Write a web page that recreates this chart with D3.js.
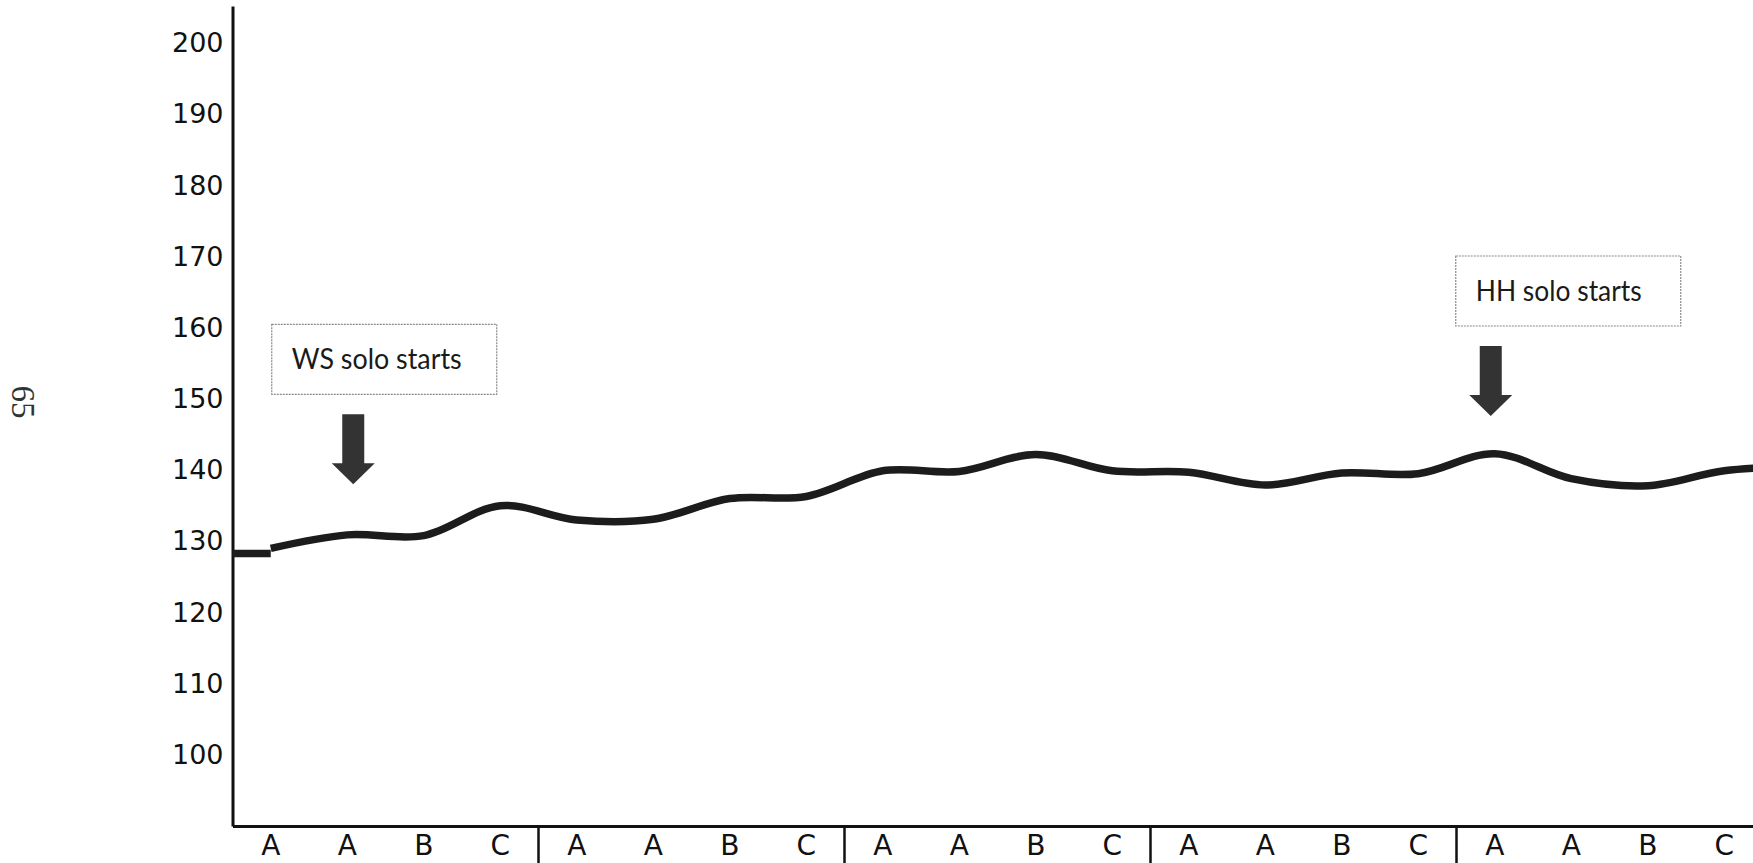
<!DOCTYPE html>
<html>
<head>
<meta charset="utf-8">
<script src="https://cdn.jsdelivr.net/npm/d3@7"></script>
<style>
  html, body { margin: 0; padding: 0; background: #fff; overflow: hidden; }
</style>
</head>
<body>
<div id="chart"></div>
<script>
// sections of A A B C, the fifth one runs off the right edge
const categories = [
  'A', 'A', 'B', 'C',
  'A', 'A', 'B', 'C',
  'A', 'A', 'B', 'C',
  'A', 'A', 'B', 'C',
  'A', 'A', 'B', 'C',
  'A'
]
const values = [
  129.0, 130.9, 130.8, 135.0,
  133.0, 133.1, 136.0, 136.3,
  139.9, 139.8, 142.2, 139.9,
  139.7, 137.9, 139.6, 139.5,
  142.3, 138.8, 137.8, 139.9,
  140.5
]
const startValue = 128.3
const yTicks = [100, 110, 120, 130, 140, 150, 160, 170, 180, 190, 200]
const noteTexts = ['WS solo starts', 'HH solo starts']
const noteIndex = [1, 16]
const noteTipValue = [138, 147.6]
const pageNumber = '65'

const width = 1753, height = 863
const margin = {top: 6, left: 232.5, bottom: 37}
const band = 76.5

const xScale = d3.scaleBand()
  .domain(d3.range(categories.length))
  .range([margin.left, margin.left + band * categories.length])
const yScale = d3.scaleLinear()
  .domain([90, 205.2])
  .range([height - margin.bottom, margin.top])
const cx = i => xScale(i) + xScale.bandwidth() / 2
const baseY = yScale.range()[0]

const svg = d3.select('#chart').append('svg')
  .attr('width', width)
  .attr('height', height)

// page number in the margin
svg.append('text')
  .attr('transform', 'translate(23, 402) rotate(90)')
  .attr('text-anchor', 'middle')
  .attr('dominant-baseline', 'central')
  .style('font-family', '"Liberation Serif", serif')
  .style('font-size', '33px')
  .attr('fill', '#333')
  .text(pageNumber)

// y axis
const yAxis = d3.axisLeft(yScale)
  .tickValues(yTicks)
  .tickSize(0)
  .tickPadding(9)
  .tickSizeOuter(0)
const gy = svg.append('g')
  .attr('transform', `translate(${margin.left}, 0)`)
  .call(yAxis)
gy.select('.domain').attr('stroke', '#111').attr('stroke-width', 3)
gy.selectAll('text')
  .style('font-family', '"DejaVu Sans", Verdana, sans-serif')
  .style('font-size', '27px')
  .attr('fill', '#111')

// x axis, only the labels that fit on the page
const shown = d3.range(categories.length).filter(i => cx(i) < width)
const xAxis = d3.axisBottom(xScale)
  .tickValues(shown)
  .tickSize(0)
  .tickPadding(9)
  .tickSizeOuter(0)
  .tickFormat(i => categories[i])
const gx = svg.append('g')
  .attr('transform', `translate(0, ${baseY})`)
  .call(xAxis)
gx.select('.domain').attr('stroke', '#111').attr('stroke-width', 3)
gx.selectAll('text')
  .style('font-family', '"DejaVu Sans", Verdana, sans-serif')
  .style('font-size', '28px')
  .attr('fill', '#111')

// section separators under the axis
const sections = d3.range(4, categories.length + 1, 4)
svg.append('g')
  .selectAll('line')
  .data(sections)
  .join('line')
  .attr('x1', i => xScale.range()[0] + i * xScale.step())
  .attr('x2', i => xScale.range()[0] + i * xScale.step())
  .attr('y1', baseY)
  .attr('y2', height + 5)
  .attr('stroke', '#111')
  .attr('stroke-width', 2.5)

// the tempo line
const line = d3.line()
  .x((d, i) => cx(i))
  .y(d => yScale(d))
  .curve(d3.curveCatmullRom.alpha(0.5))
svg.append('path')
  .datum([[xScale.range()[0], startValue], [cx(0), startValue]])
  .attr('d', d3.line().x(d => d[0]).y(d => yScale(d[1])))
  .attr('fill', 'none')
  .attr('stroke', '#1c1c1c')
  .attr('stroke-width', 7.5)
svg.append('path')
  .datum(values)
  .attr('d', line)
  .attr('fill', 'none')
  .attr('stroke', '#1c1c1c')
  .attr('stroke-width', 7.5)
  .attr('stroke-linejoin', 'round')

// annotations: a box with text and an arrow pointing down
const arrowShift = [6, -4]
const boxLeft = [-81.5, -35]
const textWidth = [170, 166]
const boxW = 225, boxH = 70
noteTexts.forEach((t, k) => {
  const x = cx(noteIndex[k]) + arrowShift[k]
  const tip = yScale(noteTipValue[k])
  const g = svg.append('g')
  const bx = x + boxLeft[k], by = tip - 160
  g.append('rect')
    .attr('x', bx).attr('y', by)
    .attr('width', boxW).attr('height', boxH)
    .attr('fill', '#fff')
    .attr('stroke', '#8a8a8a')
    .attr('stroke-width', 1.2)
    .attr('stroke-dasharray', '2,1')
  g.append('text')
    .attr('x', bx + 20)
    .attr('y', by + boxH / 2 + 10)
    .attr('textLength', textWidth[k])
    .attr('lengthAdjust', 'spacingAndGlyphs')
    .style('font-family', 'Lato, "Open Sans", sans-serif')
    .style('font-size', '29px')
    .attr('fill', '#1a1a1a')
    .text(t)
  const sw = 11, hw = 21.5, headH = 21, total = 70
  const arrow = d3.path()
  arrow.moveTo(x - sw, tip - total)
  arrow.lineTo(x + sw, tip - total)
  arrow.lineTo(x + sw, tip - headH)
  arrow.lineTo(x + hw, tip - headH)
  arrow.lineTo(x, tip)
  arrow.lineTo(x - hw, tip - headH)
  arrow.lineTo(x - sw, tip - headH)
  arrow.closePath()
  g.append('path')
    .attr('d', arrow.toString())
    .attr('fill', '#333')
})
</script>
</body>
</html>
